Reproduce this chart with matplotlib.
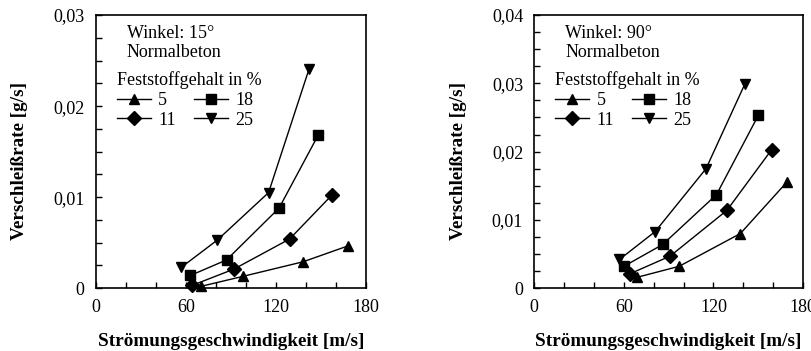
import matplotlib
matplotlib.use("Agg")
from matplotlib import pyplot as plt
from matplotlib import ticker

plt.rcParams['font.family'] = ['Liberation Serif', 'DejaVu Serif']

# Feststoffgehalt in %
labels = ['5', '11', '18', '25']
markers = ['^', 'D', 's', 'v']
msizes = [7, 7, 7, 7]

# Winkel 15°
v15 = {
    '5':  [70, 98, 138, 168],
    '11': [64, 92, 129, 157],
    '18': [63, 87, 122, 148],
    '25': [57, 81, 115, 142],
}
r15 = {
    '5':  [0.0002, 0.0013, 0.0029, 0.00465],
    '11': [0.0003, 0.0021, 0.0054, 0.0102],
    '18': [0.0014, 0.0031, 0.0088, 0.0168],
    '25': [0.0023, 0.0053, 0.0105, 0.0241],
}

# Winkel 90°
v90 = {
    '5':  [69, 97, 138, 169],
    '11': [64, 91, 129, 159],
    '18': [60, 86, 122, 150],
    '25': [57, 81, 115, 141],
}
r90 = {
    '5':  [0.0016, 0.0032, 0.0080, 0.0155],
    '11': [0.0021, 0.0047, 0.0114, 0.0203],
    '18': [0.0032, 0.0064, 0.0137, 0.0253],
    '25': [0.0042, 0.0083, 0.0175, 0.0299],
}


def fmt(y, pos):
    if abs(y) < 1e-9:
        return '0'
    return ('%.2f' % y).replace('.', ',')


def panel(ax, vel, rate, ymax, angle):
    for lab, m, ms in zip(labels, markers, msizes):
        ax.plot(vel[lab], rate[lab], color='k', lw=1.0, marker=m,
                markersize=ms, label=lab, clip_on=False, zorder=3)
    ax.set_xlim(0, 180)
    ax.set_ylim(0, ymax)
    ax.xaxis.set_major_locator(ticker.MultipleLocator(60))
    ax.xaxis.set_minor_locator(ticker.MultipleLocator(20))
    ax.yaxis.set_major_locator(ticker.MultipleLocator(0.01))
    ax.yaxis.set_minor_locator(ticker.MultipleLocator(0.0025))
    ax.yaxis.set_major_formatter(ticker.FuncFormatter(fmt))
    ax.tick_params(which='both', direction='in', length=4, width=1,
                   labelsize=13, pad=8)
    for s in ax.spines.values():
        s.set_linewidth(1.2)
    ax.set_xlabel('Strömungsgeschwindigkeit [m/s]', fontsize=13.8,
                  fontweight='bold', labelpad=12)
    ax.set_ylabel('Verschleißrate [g/s]', fontsize=13.8, fontweight='bold')
    ax.yaxis.set_label_coords(-0.25, 0.465)
    ax.text(0.115, 0.965, 'Winkel: %d°\nNormalbeton' % angle,
            transform=ax.transAxes, fontsize=13, va='top', ha='left',
            linespacing=1.15)
    leg = ax.legend(ncol=2, loc='upper left', bbox_to_anchor=(0.07, 0.80),
                    frameon=False, fontsize=13, title='Feststoffgehalt in %',
                    title_fontsize=13, handlelength=1.9, columnspacing=1.0,
                    handletextpad=0.4, labelspacing=0.15, borderpad=0.1,
                    borderaxespad=0.0)
    leg._legend_box.align = 'left'


fig = plt.figure(figsize=(8.12, 3.51), dpi=100)
ax1 = fig.add_axes([0.118, 0.179, 0.333, 0.778])
ax2 = fig.add_axes([0.658, 0.179, 0.331, 0.778])

panel(ax1, v15, r15, 0.03, 15)
panel(ax2, v90, r90, 0.04, 90)

fig.savefig('out.png', dpi=100)
